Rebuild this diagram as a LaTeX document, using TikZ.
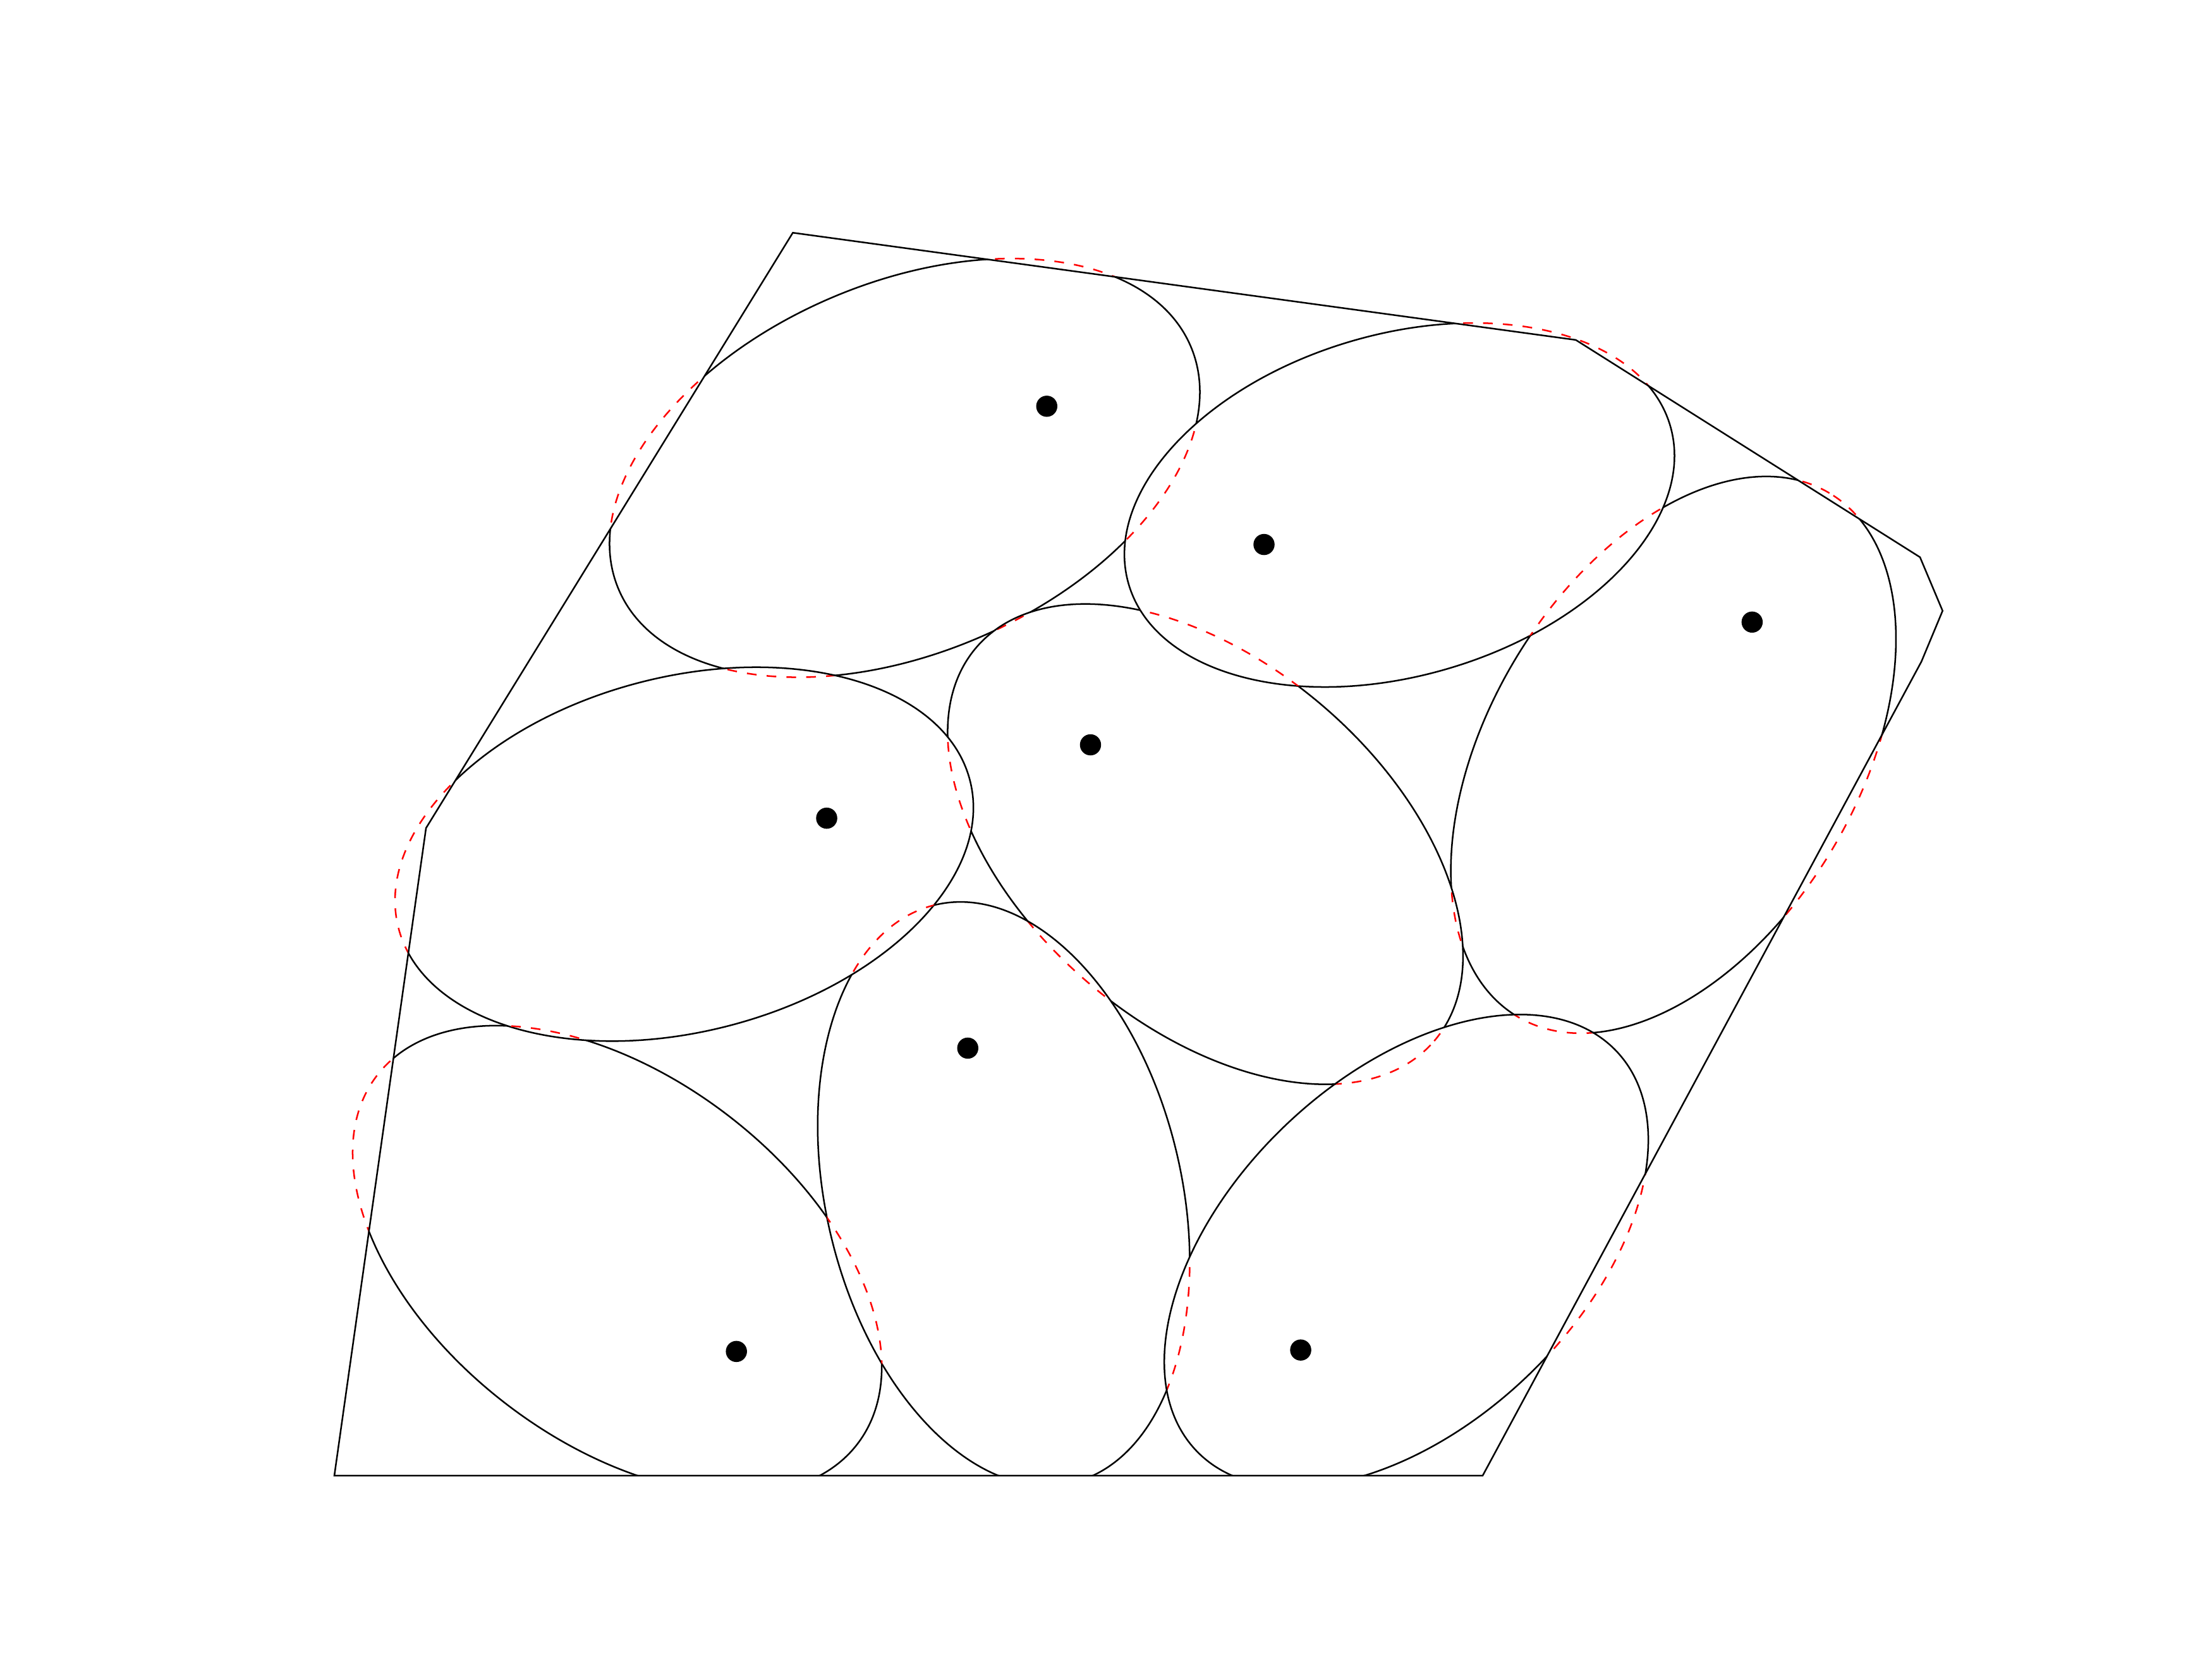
\documentclass[tikz,border=0pt]{standalone}
\tikzset{
  % solid outline of a cell
  cell line/.style={draw=black,line width=0.32pt},
  % outline part that lies outside the frame or under another cell
  cell hidden/.style={draw=red,line width=0.32pt,dash pattern=on 1.95pt off 2.05pt},
  % marker of a site
  site/.style={fill=black},
}
% frame, run clockwise
\newcommand{\framepath}{(2.37,1.30)--(3.02,5.89)--(5.62,10.11)--(11.17,9.35)--(13.61,7.81)--(13.77,7.43)--(13.62,7.07)--(10.51,1.30)--cycle}
\newcommand{\cellA}{(6.413,8.443) ellipse [x radius=2.203, y radius=1.313, rotate=23]}
\newcommand{\cellB}{(9.92,8.18) ellipse [x radius=2.000, y radius=1.210, rotate=16.3]}
\newcommand{\cellC}{(11.862,6.409) ellipse [x radius=2.160, y radius=1.310, rotate=59.2]}
\newcommand{\cellD}{(8.544,5.776) ellipse [x radius=2.140, y radius=1.286, rotate=-40.7]}
\newcommand{\cellE}{(4.85,5.705) ellipse [x radius=2.092, y radius=1.257, rotate=14.5]}
\newcommand{\cellF}{(7.1147,3.2972) ellipse [x radius=2.105, y radius=1.260, rotate=103.3]}
\newcommand{\cellG}{(4.375,2.83) ellipse [x radius=2.146, y radius=1.290, rotate=-37.5]}
\newcommand{\cellH}{(9.9685,2.893) ellipse [x radius=2.055, y radius=1.235, rotate=43.55]}
% #1 cell, #2 cells lying over it
\newcommand{\drawcell}[2]{%
  \begin{scope}
    \clip \framepath;
    % clockwise box minus the covering cells
    \clip (-1,-1) -- (-1,13) -- (17,13) -- (17,-1) -- cycle #2;
    \path[cell line] #1;
  \end{scope}
  \begin{scope}
    % counter-clockwise box minus the frame
    \clip (-1,1.30) -- (17,1.30) -- (17,13) -- (-1,13) -- cycle \framepath;
    \path[cell hidden] #1;
  \end{scope}
}
\newcommand{\hidecell}[2]{%
  \begin{scope}
    \clip #2;
    \path[cell hidden] #1;
  \end{scope}
}

\begin{document}
\begin{tikzpicture}
\useasboundingbox (0,0) rectangle (15.68,11.76);
\begin{scope}
  \clip (0,1.30) rectangle (15.68,11.76);
  \drawcell{\cellA}{\cellB\cellD\cellE}
  \hidecell{\cellA}{\cellB\cellD\cellE}
  \drawcell{\cellB}{}
  \drawcell{\cellC}{\cellB\cellD\cellH}
  \hidecell{\cellC}{\cellB\cellD\cellH}
  \drawcell{\cellD}{\cellB\cellE\cellF\cellH}
  \hidecell{\cellD}{\cellB\cellE\cellF\cellH}
  \drawcell{\cellE}{}
  \drawcell{\cellF}{\cellE\cellH}
  \hidecell{\cellF}{\cellE\cellH}
  \drawcell{\cellG}{\cellE\cellF}
  \hidecell{\cellG}{\cellE\cellF}
  \drawcell{\cellH}{}
\end{scope}
\path[cell line] \framepath;
\foreach \x/\y in {7.42/8.88,8.96/7.90,12.42/7.35,7.73/6.48,5.86/5.96,6.86/4.33,5.22/2.18,9.22/2.19}
  \fill[site] (\x,\y) circle (0.075);
\end{tikzpicture}
\end{document}
